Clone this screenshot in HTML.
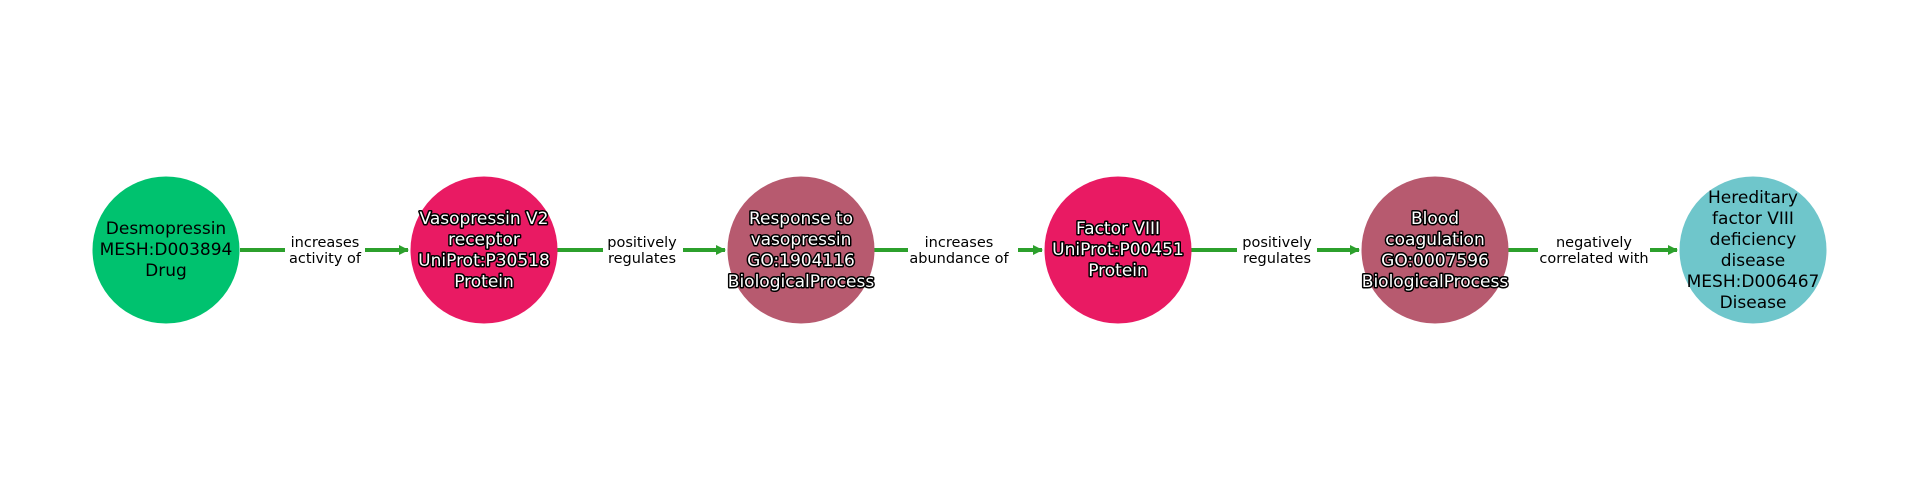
<!DOCTYPE html>
<html><head><meta charset="utf-8"><style>
html,body{margin:0;padding:0;background:#fff;}
svg{display:block;}
.n{font-family:"DejaVu Sans","Liberation Sans",sans-serif;font-size:17px;text-anchor:middle;}
.w{fill:#fff;stroke:#000;stroke-width:3px;paint-order:stroke;stroke-linejoin:round;}
.e{font-family:"DejaVu Sans","Liberation Sans",sans-serif;font-size:14.5px;text-anchor:middle;fill:#000;}
</style></head><body>
<svg width="1920" height="500" viewBox="0 0 1920 500" xmlns="http://www.w3.org/2000/svg">
<defs>
<marker id="a" markerWidth="10" markerHeight="10" refX="9" refY="5" orient="auto" markerUnits="userSpaceOnUse">
<path d="M0,0 L10,5 L0,10 Z" fill="#2ca02c"/>
</marker>
</defs>
<g stroke="#2ca02c" stroke-width="4" fill="none">
<line x1="240" y1="250" x2="408" y2="250" marker-end="url(#a)"/>
<line x1="557" y1="250" x2="725" y2="250" marker-end="url(#a)"/>
<line x1="874" y1="250" x2="1042" y2="250" marker-end="url(#a)"/>
<line x1="1191" y1="250" x2="1359" y2="250" marker-end="url(#a)"/>
<line x1="1508" y1="250" x2="1677" y2="250" marker-end="url(#a)"/>
</g>
<g fill="#fff">
<rect x="285" y="230" width="80" height="40"/>
<rect x="603" y="230" width="80" height="40"/>
<rect x="908" y="230" width="110" height="40"/>
<rect x="1237" y="230" width="80" height="40"/>
<rect x="1538" y="230" width="112" height="40"/>
</g>
<text class="e" x="325" y="247">increases</text><text class="e" x="325" y="263">activity of</text>
<text class="e" x="642" y="247">positively</text><text class="e" x="642" y="263">regulates</text>
<text class="e" x="959" y="247">increases</text><text class="e" x="959" y="263">abundance of</text>
<text class="e" x="1277" y="247">positively</text><text class="e" x="1277" y="263">regulates</text>
<text class="e" x="1594" y="247">negatively</text><text class="e" x="1594" y="263">correlated with</text>

<circle cx="166" cy="250" r="73.5" fill="#00c26f"/>
<circle cx="484" cy="250" r="73.5" fill="#e91a63"/>
<circle cx="801" cy="250" r="73.5" fill="#b75a6f"/>
<circle cx="1118" cy="250" r="73.5" fill="#e91a63"/>
<circle cx="1435" cy="250" r="73.5" fill="#b75a6f"/>
<circle cx="1753" cy="250" r="73.5" fill="#6fc6cb"/>

<text class="n" x="166" fill="#000"><tspan x="166" y="234">Desmopressin</tspan><tspan x="166" y="255">MESH:D003894</tspan><tspan x="166" y="276">Drug</tspan></text>
<text class="n w" x="484"><tspan x="484" y="224">Vasopressin V2</tspan><tspan x="484" y="245">receptor</tspan><tspan x="484" y="266">UniProt:P30518</tspan><tspan x="484" y="287">Protein</tspan></text>
<text class="n w" x="801"><tspan x="801" y="224">Response to</tspan><tspan x="801" y="245">vasopressin</tspan><tspan x="801" y="266">GO:1904116</tspan><tspan x="801" y="287">BiologicalProcess</tspan></text>
<text class="n w" x="1118"><tspan x="1118" y="234">Factor VIII</tspan><tspan x="1118" y="255">UniProt:P00451</tspan><tspan x="1118" y="276">Protein</tspan></text>
<text class="n w" x="1435"><tspan x="1435" y="224">Blood</tspan><tspan x="1435" y="245">coagulation</tspan><tspan x="1435" y="266">GO:0007596</tspan><tspan x="1435" y="287">BiologicalProcess</tspan></text>
<text class="n" fill="#000"><tspan x="1753" y="203">Hereditary</tspan><tspan x="1753" y="224">factor VIII</tspan><tspan x="1753" y="245">deficiency</tspan><tspan x="1753" y="266">disease</tspan><tspan x="1753" y="287">MESH:D006467</tspan><tspan x="1753" y="308">Disease</tspan></text>
</svg>
</body></html>
